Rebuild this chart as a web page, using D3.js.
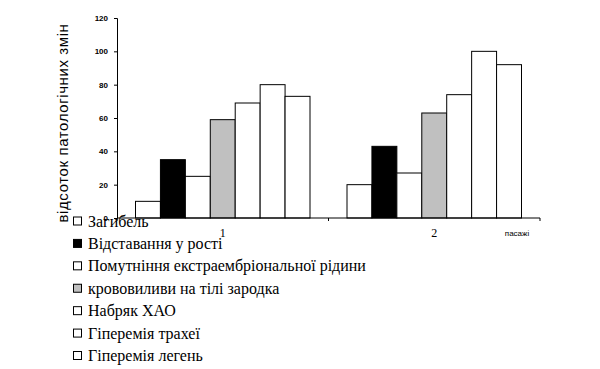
<!DOCTYPE html>
<html><head><meta charset="utf-8">
<script src="https://cdn.jsdelivr.net/npm/d3@7"></script>
<style>body{margin:0;background:#fff}</style>
</head><body>
<svg id="c" width="600" height="369"></svg>
<script>
const categories = ["1", "2"];
const seriesNames = ["Загибель", "Відставання у рості", "Помутніння екстраембріональної рідини", "крововиливи на тілі зародка", "Набряк ХАО", "Гіперемія трахеї", "Гіперемія легень"];
const seriesColors = ["#ffffff", "#000000", "#ffffff", "#c0c0c0", "#ffffff", "#ffffff", "#ffffff"];
const values1 = [10, 35, 25, 59, 69, 80, 73];
const values2 = [20, 43, 27, 63, 74, 100, 92];
const yTicks = [0, 20, 40, 60, 80, 100, 120];
const yTitle = "відсоток патологічних змін";
const xTitle = "пасажі";

const svg = d3.select("#c");
const y = d3.scaleLinear().domain([0, 120]).range([218, 18]);
const x0 = d3.scaleBand().domain(categories).range([117, 540]).paddingInner(0).paddingOuter(0);
const x1 = d3.scaleBand().domain(d3.range(seriesNames.length)).range([18.5, x0.bandwidth() - 18.5]).padding(0);
const data = [values1, values2];

// bars
categories.forEach((c, ci) => {
  const g = svg.append("g").attr("transform", `translate(${x0(c)},0)`);
  g.selectAll("rect").data(data[ci]).join("rect")
    .attr("x", (d, i) => x1(i))
    .attr("y", d => y(d))
    .attr("width", x1.bandwidth())
    .attr("height", d => y(0) - y(d))
    .attr("fill", (d, i) => seriesColors[i])
    .attr("stroke", "#000").attr("stroke-width", 1);
});

// y axis
const yAxis = d3.axisLeft(y).tickValues(yTicks).tickSize(3).tickPadding(6);
const ya = svg.append("g").attr("transform", "translate(117,0)").call(yAxis);
ya.select(".domain").attr("stroke", "#000");
ya.selectAll("text").attr("font-family", "Arial, 'Liberation Sans', sans-serif").attr("font-size", 8).attr("font-weight", "bold").attr("fill", "#000");

// x axis
const xa = svg.append("g").attr("transform", "translate(0,218)");
xa.append("line").attr("x1", 117).attr("x2", 540).attr("y1", 0).attr("y2", 0).attr("stroke", "#000");
const xtickPos = [x0.range()[0], x0(categories[1]), x0.range()[1]];
xa.selectAll("line.t").data(xtickPos).join("line").attr("class", "t")
  .attr("x1", d => d).attr("x2", d => d).attr("y1", 0).attr("y2", 3).attr("stroke", "#000");
svg.selectAll("text.cat").data(categories).join("text").attr("class", "cat")
  .attr("x", d => x0(d) + x0.bandwidth() / 2).attr("y", 237)
  .attr("text-anchor", "middle")
  .attr("font-family", "'Liberation Serif', 'Times New Roman', serif").attr("font-size", 12)
  .text(d => d);
svg.append("text").attr("x", 517).attr("y", 236).attr("text-anchor", "middle")
  .attr("font-family", "Arial, 'Liberation Sans', sans-serif").attr("font-size", 8).text(xTitle);

// y title
svg.append("text").attr("transform", "translate(68,123) rotate(-90)")
  .attr("text-anchor", "middle")
  .attr("font-family", "Arial, 'Liberation Sans', sans-serif").attr("font-size", 15)
  .attr("letter-spacing", 0.6)
  .text(yTitle);

// legend
const lg = svg.append("g");
const rowY = d3.scaleLinear().domain([0, 6]).range([221, 355.5]);
seriesNames.forEach((n, i) => {
  lg.append("rect").attr("x", 73.5).attr("y", rowY(i) - 4).attr("width", 8).attr("height", 8)
    .attr("fill", seriesColors[i]).attr("stroke", "#000").attr("stroke-width", 1);
  lg.append("text").attr("x", 88).attr("y", rowY(i) + 5.5)
    .attr("font-family", "'Liberation Serif', 'Times New Roman', serif").attr("font-size", 16)
    .text(n);
});
</script>
</body></html>
